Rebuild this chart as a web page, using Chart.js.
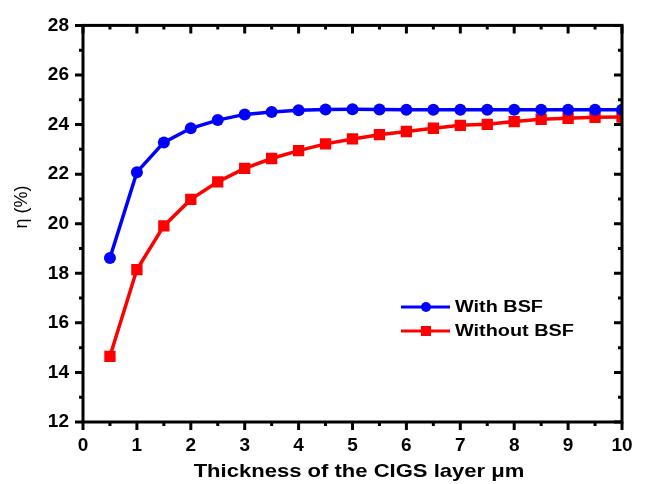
<!DOCTYPE html>
<html>
<head>
<meta charset="utf-8">
<script src="https://cdn.jsdelivr.net/npm/chart.js@4.4.1/dist/chart.umd.min.js"></script>
<style>
    html, body { margin: 0; padding: 0; background: #fff; }
    #wrap { width: 646px; height: 484px; position: relative; }
</style>
</head>
<body>
<div id="wrap"><canvas id="graph0"></canvas></div>
<script>
// thickness (um)
var thickness    = [0.5, 1, 1.5, 2, 2.5, 3, 3.5, 4, 4.5, 5, 5.5, 6, 6.5, 7, 7.5, 8, 8.5, 9, 9.5, 10];
// efficiency (%)
var with_bsf     = [18.62, 22.08, 23.28, 23.85, 24.18, 24.41, 24.51, 24.58, 24.61, 24.62, 24.61, 24.60, 24.60, 24.60, 24.60, 24.60, 24.60, 24.60, 24.60, 24.60];
var without_bsf  = [14.65, 18.15, 19.91, 20.98, 21.69, 22.23, 22.63, 22.95, 23.22, 23.42, 23.59, 23.72, 23.85, 23.97, 24.01, 24.12, 24.21, 24.25, 24.29, 24.30];
var series_names = ["With BSF", "Without BSF"];
var x_title      = "Thickness of the CIGS layer \u03bcm";
var y_title      = "\u03b7 (%)";

var CHART0 = null;
var FONT   = "'Liberation Sans', Arial, sans-serif";

function to_points(xs, ys){
    let pts = [];
    for (let i=0;i<xs.length;i++){
        pts.push({x: xs[i], y: ys[i]});
    }
    return pts;
}

//横に引き伸ばした文字を描く(元画像の文字は横長)
function wide_text(ctx, text, x, y, stretch, align){
    ctx.save();
    ctx.translate(x, y);
    ctx.scale(stretch, 1);
    ctx.textAlign = align;
    ctx.fillText(text, 0, 0);
    ctx.restore();
}

//枠線と目盛(外向き/内向き)、凡例、軸タイトルを描く
var frame_plugin = {
    id: "frame_plugin",
    afterDatasetsDraw: function(chart){
        let ctx  = chart.ctx;
        let area = chart.chartArea;
        let xs   = chart.scales.x;
        let ys   = chart.scales.y;

        ctx.save();
        ctx.strokeStyle = "#000";
        ctx.lineWidth   = 3;
        ctx.lineCap     = "butt";

        //x目盛: 下は外向き、上は内向き
        for (let v=0; v<=10.001; v+=0.5){
            let px  = xs.getPixelForValue(v);
            let len = (Math.abs(v - Math.round(v)) < 0.01) ? 8 : 4;
            ctx.beginPath();
            ctx.moveTo(px, area.bottom);
            ctx.lineTo(px, area.bottom + len);
            ctx.moveTo(px, area.top);
            ctx.lineTo(px, area.top + len);
            ctx.stroke();
        }
        //y目盛: 左は外向き、右は内向き
        for (let v=12; v<=28; v+=1){
            let py  = ys.getPixelForValue(v);
            let len = (v % 2 === 0) ? 8 : 4;
            ctx.beginPath();
            ctx.moveTo(area.left, py);
            ctx.lineTo(area.left - len, py);
            ctx.moveTo(area.right, py);
            ctx.lineTo(area.right - len, py);
            ctx.stroke();
        }
        ctx.strokeRect(area.left, area.top, area.right - area.left, area.bottom - area.top);

        //凡例
        let lx = 401, ly = 307, gap = 24;
        let sets = chart.data.datasets;
        for (let i=0;i<sets.length;i++){
            let y = ly + gap * i;
            ctx.strokeStyle = sets[i].borderColor;
            ctx.fillStyle   = sets[i].backgroundColor;
            ctx.lineWidth   = 3;
            ctx.beginPath();
            ctx.moveTo(lx, y);
            ctx.lineTo(lx + 49, y);
            ctx.stroke();
            if (sets[i].pointStyle === "circle"){
                ctx.beginPath();
                ctx.arc(lx + 25, y, 5, 0, Math.PI * 2);
                ctx.fill();
            } else {
                ctx.fillRect(lx + 20, y - 5, 10, 10);
            }
            ctx.fillStyle    = "#000";
            ctx.font         = "bold 16px " + FONT;
            ctx.textBaseline = "middle";
            wide_text(ctx, sets[i].label, lx + 54, y + 1, 1.24, "left");
        }

        //x軸タイトル
        ctx.fillStyle    = "#000";
        ctx.font         = "bold 19px " + FONT;
        ctx.textBaseline = "alphabetic";
        wide_text(ctx, x_title, 359, 477, 1.16, "center");

        //y軸タイトル
        ctx.translate(22, 207);
        ctx.rotate(-Math.PI / 2);
        ctx.font         = "18px " + FONT;
        ctx.textAlign    = "center";
        ctx.textBaseline = "middle";
        ctx.fillText(y_title, 0, 0);
        ctx.restore();
    }
};

window.addEventListener("load", function(){
    let ctx0 = document.getElementById("graph0");

    Chart.defaults.font.family = FONT;
    Chart.defaults.color       = "#000";

    CHART0 = new Chart(ctx0, {
        type: "line",
        data: {
            datasets: [
                {
                    label: series_names[0],
                    data: to_points(thickness, with_bsf),
                    borderColor: "#0000ff",
                    backgroundColor: "#0000ff",
                    borderWidth: 3.5,
                    pointStyle: "circle",
                    pointRadius: 6,
                    pointBorderWidth: 0,
                    tension: 0,
                    clip: 0,
                },
                {
                    label: series_names[1],
                    data: to_points(thickness, without_bsf),
                    borderColor: "#ff0000",
                    backgroundColor: "#ff0000",
                    borderWidth: 3.5,
                    pointStyle: "rect",
                    pointRadius: 8,
                    pointBorderWidth: 0,
                    tension: 0,
                    clip: 0,
                },
            ],
        },
        options: {
            responsive: true,
            maintainAspectRatio: false,
            animation: false,
            layout: { padding: { top: 18, right: 24, left: 0, bottom: 0 } },
            plugins: {
                legend: { display: false },
                tooltip: { enabled: false },
            },
            scales: {
                x: {
                    type: "linear",
                    min: 0,
                    max: 10,
                    grid: { display: false, drawTicks: false },
                    border: { display: false },
                    ticks: {
                        stepSize: 1,
                        padding: 12,
                        font: { size: 19, weight: "bold" },
                    },
                    afterFit: function(scale){ scale.height = 62; },
                },
                y: {
                    min: 12,
                    max: 28,
                    grid: { display: false, drawTicks: false },
                    border: { display: false },
                    ticks: {
                        stepSize: 2,
                        padding: 14,
                        font: { size: 19, weight: "bold" },
                    },
                    afterFit: function(scale){ scale.width = 83; },
                },
            },
        },
        plugins: [frame_plugin],
    });
});
</script>
</body>
</html>
